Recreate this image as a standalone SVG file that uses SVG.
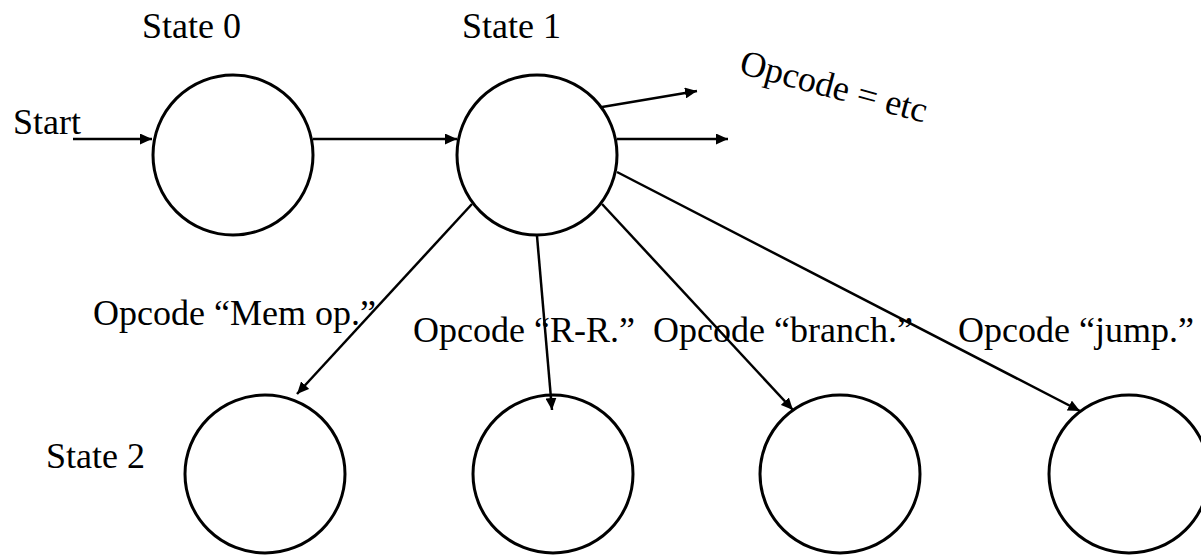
<svg xmlns="http://www.w3.org/2000/svg" width="1201" height="555" viewBox="0 0 1201 555">
<style>
text{font-family:"Liberation Serif","Times New Roman",serif;font-size:36px;fill:#000}
.st{fill:#fff;stroke:#000;stroke-width:3}
.cn line{stroke:#000;stroke-width:2.5}
</style>
<defs>
<marker id="ah" markerUnits="userSpaceOnUse" markerWidth="13" markerHeight="11" refX="12" refY="5.5" orient="auto">
<path d="M0,0 L12,5.5 L0,11 z" fill="#000"/>
</marker>
</defs>
<rect width="1201" height="555" fill="#fff"/>
<g id="state0"><ellipse class="st" cx="233" cy="155" rx="80" ry="80"/><text x="142" y="38">State 0</text></g>
<g id="state1"><ellipse class="st" cx="537" cy="155" rx="80" ry="80"/><text x="462" y="38">State 1</text></g>
<g id="mem"><ellipse class="st" cx="265" cy="474" rx="80" ry="79"/><text x="46" y="468">State 2</text></g>
<g id="rr"><ellipse class="st" cx="553" cy="474" rx="80" ry="79"/></g>
<g id="branch"><ellipse class="st" cx="840" cy="474" rx="80" ry="79"/></g>
<g id="jump"><ellipse class="st" cx="1129" cy="474" rx="80" ry="79"/></g>
<g id="connectors" class="cn">
<line x1="73" y1="139" x2="152" y2="139" marker-end="url(#ah)"/>
<line x1="313" y1="139" x2="457" y2="139" marker-end="url(#ah)"/>
<line x1="602" y1="107" x2="697" y2="91" marker-end="url(#ah)"/>
<line x1="617" y1="139" x2="728" y2="139" marker-end="url(#ah)"/>
<line x1="472" y1="204" x2="297" y2="394" marker-end="url(#ah)"/>
<line x1="537" y1="236" x2="552" y2="410" marker-end="url(#ah)"/>
<line x1="602" y1="204" x2="793" y2="410" marker-end="url(#ah)"/>
<line x1="617" y1="172" x2="1080" y2="411" marker-end="url(#ah)"/>
</g>
<g id="labels">
<text x="13" y="134">Start</text>
<text transform="translate(738,73) rotate(15)" font-size="37">Opcode = etc</text>
<text x="93" y="325">Opcode “Mem op.”</text>
<text x="413" y="342">Opcode “R-R.”</text>
<text x="653" y="342">Opcode “branch.”</text>
<text x="958" y="342">Opcode “jump.”</text>
</g>
</svg>
